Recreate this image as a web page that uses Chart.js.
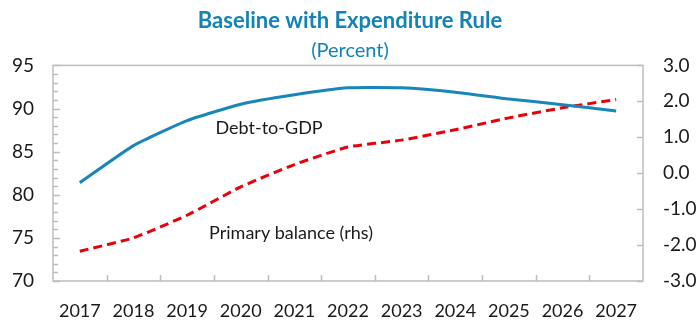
<!DOCTYPE html>
<html><head><meta charset="utf-8">
<script src="https://cdn.jsdelivr.net/npm/chart.js@4"></script>
<style>html,body{margin:0;padding:0;background:#fff}#wrap{width:700px;height:321px}</style>
</head><body><div id="wrap"><canvas id="c"></canvas></div>
<script>
const years = ['2017','2018','2019','2020','2021','2022','2023','2024','2025','2026','2027'];
const debtToGDP = [81.4, 85.7, 88.6, 90.5, 91.6, 92.4, 92.4, 91.9, 91.1, 90.45, 89.7];
const primaryBalance = [-2.17, -1.8, -1.17, -0.38, 0.24, 0.73, 0.92, 1.21, 1.54, 1.82, 2.05];
const leftTicks = [70, 75, 80, 85, 90, 95];
const rightTicks = [-3, -2, -1, 0, 1, 2, 3];

const FONT = 'Lato, "Open Sans", sans-serif';
const BLUE = '#1886b8';
const TITLE = '#1382b4';
const RED = '#e8000b';
const AXIS = '#bdbdbd';

const decor = {
  id: 'decor',
  afterDatasetsDraw(chart) {
    const ctx = chart.ctx, a = chart.chartArea;
    const yL = chart.scales.y, yR = chart.scales.y2, x = chart.scales.x;
    ctx.save();
    ctx.strokeStyle = AXIS; ctx.lineWidth = 1.5;
    ctx.strokeRect(a.left, a.top, a.right - a.left, a.bottom - a.top);
    ctx.beginPath();
    for (let v = yL.min; v <= yL.max; v += 1) {
      const p = Math.round(yL.getPixelForValue(v)) + 0.5;
      const len = (v % 5 === 0) ? 7 : 5;
      ctx.moveTo(a.left, p); ctx.lineTo(a.left + len, p);
    }
    rightTicks.forEach(v => {
      const p = Math.round(yR.getPixelForValue(v)) + 0.5;
      ctx.moveTo(a.right, p); ctx.lineTo(a.right - 6, p);
    });
    for (let i = 1; i < years.length; i++) {
      const p = Math.round((x.getPixelForValue(i - 1) + x.getPixelForValue(i)) / 2) + 0.5;
      ctx.moveTo(p, a.bottom); ctx.lineTo(p, a.bottom - 6);
    }
    ctx.stroke();
    ctx.fillStyle = '#1a1a1a';
    ctx.font = '18px ' + FONT;
    ctx.textBaseline = 'middle';
    ctx.textAlign = 'left';
    ctx.fillText('Debt-to-GDP', x.getPixelForValue(2.53), yL.getPixelForValue(87.7));
    ctx.fillText('Primary balance (rhs)', x.getPixelForValue(2.41), yL.getPixelForValue(75.5));
    ctx.restore();
  }
};

new Chart(document.getElementById('c'), {
  type: 'line',
  data: {
    labels: years,
    datasets: [
      { label: 'Debt-to-GDP', data: debtToGDP, yAxisID: 'y', borderColor: BLUE, borderWidth: 3, pointRadius: 0, tension: 0.15, fill: false },
      { label: 'Primary balance (rhs)', data: primaryBalance, yAxisID: 'y2', borderColor: RED, borderWidth: 3, borderDash: [9, 5], pointRadius: 0, tension: 0.15, fill: false }
    ]
  },
  plugins: [decor],
  options: {
    responsive: true, maintainAspectRatio: false, animation: false,
    layout: { padding: 0 },
    plugins: {
      legend: { display: false },
      tooltip: { enabled: false },
      title: { display: true, text: 'Baseline with Expenditure Rule', color: TITLE, font: { family: FONT, size: 22, weight: 'bold', lineHeight: 1.2 }, padding: { top: 8, bottom: 4 } },
      subtitle: { display: true, text: '(Percent)', color: TITLE, font: { family: FONT, size: 20, lineHeight: 1.2 }, padding: { top: 0, bottom: 3 } }
    },
    scales: {
      x: {
        offset: true,
        grid: { display: false, drawTicks: false },
        border: { display: false },
        ticks: { color: '#1a1a1a', font: { family: FONT, size: 18 }, padding: 19, maxRotation: 0, autoSkip: false },
        afterFit(s) { s.height = 40; }
      },
      y: {
        position: 'left', min: 70, max: 95,
        afterBuildTicks(s) { s.ticks = leftTicks.map(v => ({ value: v })); },
        grid: { display: false, drawTicks: false },
        border: { display: false },
        ticks: { color: '#1a1a1a', font: { family: FONT, size: 19 }, padding: 19 },
        afterFit(s) { s.width = 53; }
      },
      y2: {
        position: 'right', min: -3, max: 3,
        afterBuildTicks(s) { s.ticks = rightTicks.map(v => ({ value: v })); },
        grid: { display: false, drawTicks: false },
        border: { display: false },
        ticks: { color: '#1a1a1a', font: { family: FONT, size: 19 }, padding: 20, callback: v => v.toFixed(1) },
        afterFit(s) { s.width = 57; }
      }
    }
  }
});
</script></body></html>
